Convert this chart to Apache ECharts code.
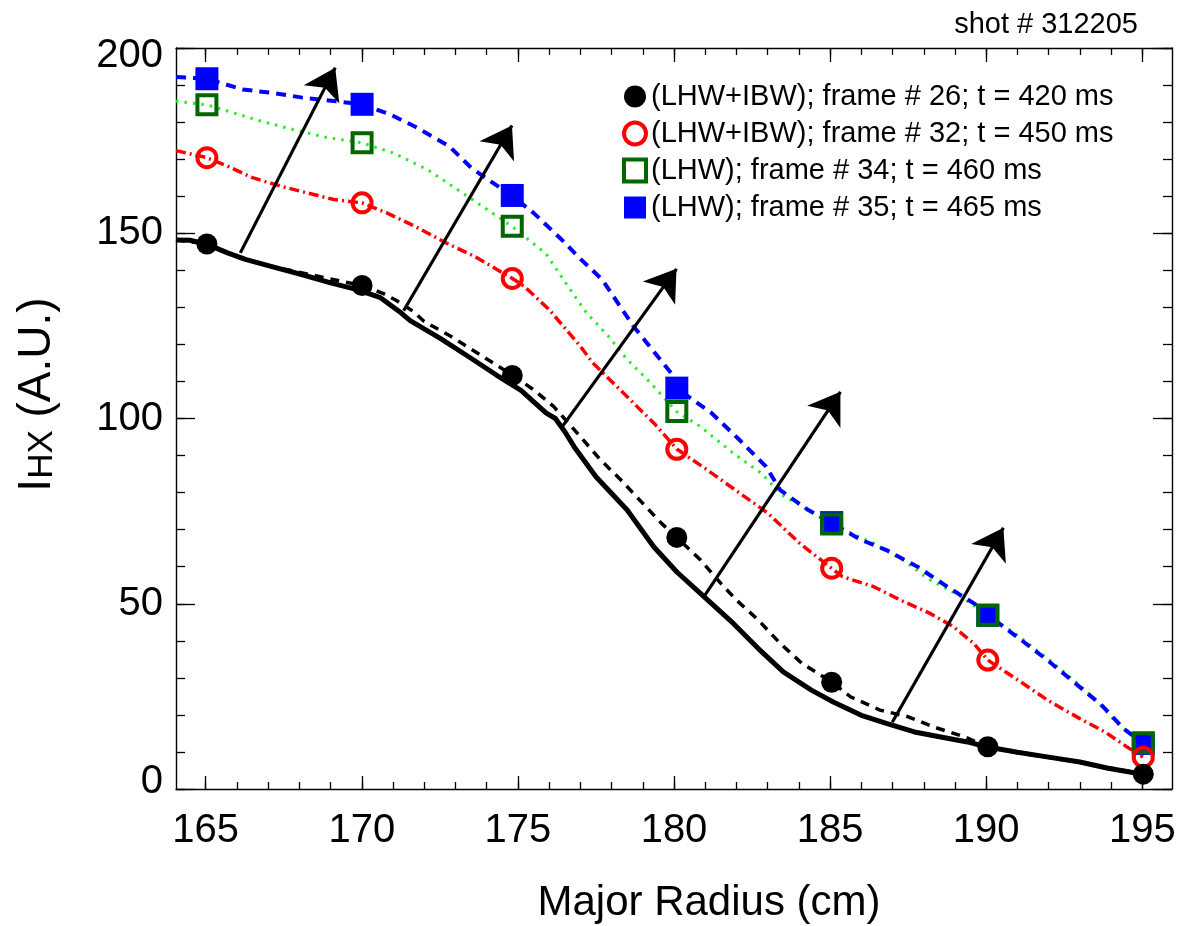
<!DOCTYPE html>
<html>
<head>
<meta charset="utf-8">
<title>HX intensity profiles, shot # 312205</title>
<script src="https://cdn.jsdelivr.net/npm/echarts@6/dist/echarts.min.js"></script>
<style>
  html, body { margin: 0; padding: 0; background: #fff; }
  #chart { width: 1184px; height: 926px; }
</style>
</head>
<body>
<div id="chart"></div>
<script>
// Chord major radius of each HX channel (cm)
const channelRadius = [165.04, 170.01, 174.82, 180.09, 185.05, 190.05, 195.03];

// Measured HX intensity per channel (A.U.)
const frame26 = [147.1, 135.9, 111.6, 67.9, 28.8, 11.4, 4.0];
const frame32 = [170.4, 158.2, 137.8, 91.7, 59.6, 34.8, 8.6];
const frame34 = [184.7, 174.4, 151.9, 101.9, 71.5, 46.9, 12.5];
const frame35 = [191.7, 184.8, 160.2, 108.2, 71.9, 46.9, 12.3];

const seriesNames = [
  '(LHW+IBW); frame # 26; t = 420 ms',
  '(LHW+IBW); frame # 32; t = 450 ms',
  '(LHW); frame # 34; t = 460 ms',
  '(LHW); frame # 35; t = 465 ms'
];

// Reconstructed profile (thick solid line), frame 26
const profileFit26 = [
  [164.05,148.2],[164.5,148.1],[165.05,147.0],[165.7,144.7],[166.3,142.9],[167.3,140.6],
  [168.1,138.8],[169.0,136.6],[169.85,134.8],[170.6,132.6],[171.2,128.9],[171.55,126.4],
  [172.5,121.7],[173.4,116.8],[174.3,111.8],[175.1,107.6],[175.9,101.5],[176.2,100.0],
  [176.5,96.5],[176.8,92.4],[177.5,84.3],[178.5,75.3],[179.35,65.4],[180.1,58.5],
  [180.96,51.9],[181.9,44.7],[182.7,37.9],[183.5,31.6],[184.4,26.7],[185.1,23.5],
  [186.0,19.9],[186.8,17.7],[187.7,15.4],[188.5,14.1],[189.4,12.7],[190.0,11.4],
  [191.0,9.9],[192.0,8.6],[193.0,7.3],[193.9,5.6],[194.6,4.6],[195.05,3.8]
];

// Smoothed profiles through the channels
const profile26 = [
  [164.05,148.2],[165.08,147.1],[166.0,143.6],[167.0,141.2],[167.7,140.0],[168.7,138.2],
  [169.2,137.3],[170.01,135.9],[170.7,133.7],[171.1,131.9],[171.65,128.9],[172.0,126.2],
  [172.85,122.2],[173.7,117.7],[174.84,111.6],[175.5,107.8],[176.15,103.2],[177.0,95.1],
  [177.65,88.8],[178.3,83.4],[179.0,77.1],[179.6,71.7],[180.09,67.9],[180.85,61.8],
  [181.5,55.5],[182.0,51.0],[182.7,45.6],[183.4,39.3],[184.1,33.9],[185.07,28.8],
  [185.65,24.9],[186.6,21.3],[187.5,19.5],[188.3,16.8],[189.3,14.1],[190.04,11.4],
  [191.0,9.8],[192.0,8.5],[193.0,7.2],[194.0,5.6],[195.05,4.0]
];
const profile32 = [
  [164.05,172.3],[165.04,170.4],[165.7,168.1],[166.5,165.0],[167.4,162.7],[168.25,160.9],
  [169.1,159.1],[170.01,158.2],[170.8,155.5],[171.7,151.9],[172.7,147.4],[173.6,143.8],
  [174.8,137.9],[175.2,135.7],[176.0,129.4],[177.0,119.5],[177.4,115.0],[178.05,109.6],
  [178.7,104.2],[179.35,98.8],[180.1,91.7],[181.0,86.5],[182.0,80.5],[183.0,74.5],
  [184.0,66.5],[185.04,59.6],[185.4,57.3],[186.4,54.6],[187.25,51.0],[188.2,47.4],
  [188.95,43.8],[189.6,39.3],[190.05,34.8],[191.0,29.5],[192.0,23.8],[193.0,19.0],
  [193.8,15.4],[194.5,11.4],[195.02,8.6]
];
const profile34 = [
  [164.05,185.6],[165.02,184.7],[165.7,183.0],[166.75,180.3],[167.8,178.0],[168.9,175.8],
  [170.01,174.4],[171.0,171.7],[172.1,167.2],[172.9,162.7],[173.7,158.2],[174.8,151.9],
  [175.9,144.5],[176.6,135.7],[177.2,128.5],[177.9,122.2],[178.5,115.9],[179.15,110.5],
  [180.08,101.9],[180.85,97.8],[181.9,90.6],[182.8,85.2],[183.45,79.4],[184.3,75.3],
  [185.04,71.5],[186.4,66.3],[187.3,62.0],[188.2,56.4],[189.1,52.4],[190.06,46.9],
  [191.0,41.5],[192.0,35.0],[193.0,28.0],[193.6,23.1],[194.3,16.8],[195.02,12.5]
];
const profile35 = [
  [164.05,192.2],[165.02,191.7],[166.2,188.8],[167.2,187.8],[168.1,186.6],[169.1,185.7],
  [170.01,184.8],[170.9,182.1],[171.7,178.8],[172.8,173.5],[173.5,167.7],[174.2,163.6],
  [174.8,160.2],[175.5,155.5],[176.4,148.3],[176.95,143.5],[177.7,137.5],[178.7,124.9],
  [179.3,118.6],[179.95,111.8],[180.08,108.2],[181.2,101.5],[182.1,94.2],[182.95,87.0],
  [183.4,80.7],[184.3,75.3],[185.04,71.9],[186.0,67.2],[186.8,64.5],[187.8,60.0],
  [188.75,54.6],[189.7,49.6],[190.06,46.9],[191.0,41.0],[192.0,34.5],[193.0,27.5],
  [193.7,22.6],[194.4,16.3],[195.02,12.3]
];

// Arrows showing the rise of the profile (tail -> head)
const arrowTails = [[166.11,144.7],[171.34,129.1],[176.42,97.8],[180.95,51.8],[186.99,18.0]];
const arrowHeads = [[169.15,194.7],[174.81,179.1],[180.08,140.4],[185.33,107.2],[190.55,70.5]];

// Axis ticks and labels
const xMajor = [165, 170, 175, 180, 185, 190, 195];
const xMinor = [165,166,167,168,169,170,171,172,173,174,175,176,177,178,179,180,
                181,182,183,184,185,186,187,188,189,190,191,192,193,194,195];
const yMajor = [0, 50, 100, 150, 200];
const yMinor = [0,10,20,30,40,50,60,70,80,90,100,110,120,130,140,150,160,170,180,190,200];

const FONT = '"Liberation Sans", Arial, Helvetica, sans-serif';
const xRange = [164.05, 195.95];
const yRange = [0, 200];

function pairs(xs, ys) { return xs.map((x, i) => [x, ys[i]]); }

function xAxisDef(pos, ticks, len, withLabels, withLine) {
  return {
    type: 'value', position: pos, min: xRange[0], max: xRange[1],
    axisLine: { show: withLine, onZero: false, lineStyle: { color: '#000', width: 1.4 } },
    axisTick: { show: true, inside: true, length: len, customValues: ticks,
                lineStyle: { color: '#000', width: 1.3 } },
    axisLabel: withLabels ? {
      show: true, customValues: xMajor, margin: 22, fontSize: 40,
      fontFamily: FONT, color: '#000'
    } : { show: false },
    splitLine: { show: false }
  };
}
function yAxisDef(pos, ticks, len, withLabels, withLine) {
  return {
    type: 'value', position: pos, min: yRange[0], max: yRange[1],
    axisLine: { show: withLine, onZero: false, lineStyle: { color: '#000', width: 1.4 } },
    axisTick: { show: true, inside: true, length: len, customValues: ticks,
                lineStyle: { color: '#000', width: 1.3 } },
    axisLabel: withLabels ? {
      show: true, customValues: yMajor, margin: 13, fontSize: 40,
      fontFamily: FONT, color: '#000',
      formatter: function (v) {
        if (v === 200) return '{top|200}';
        if (v === 0) return '{bot|0}';
        return String(v);
      },
      rich: {
        top: { fontSize: 40, fontFamily: FONT, color: '#000', padding: [16, 0, 0, 0] },
        bot: { fontSize: 40, fontFamily: FONT, color: '#000', padding: [0, 0, 14, 0] }
      }
    } : { show: false },
    splitLine: { show: false }
  };
}

const xAxes = [
  xAxisDef('bottom', xMajor, 13, true, true),
  xAxisDef('bottom', xMinor, 7, false, false),
  xAxisDef('top', xMajor, 14, false, true),
  xAxisDef('top', xMinor, 7, false, false)
];
xAxes[0].name = 'Major Radius (cm)';
xAxes[0].nameLocation = 'middle';
xAxes[0].nameGap = 93;
xAxes[0].nameTextStyle = { fontSize: 42, fontFamily: FONT, color: '#000', padding: [0, 0, 0, 70] };

const yAxes = [
  yAxisDef('left', yMajor, 19, true, true),
  yAxisDef('left', yMinor, 9, false, false),
  yAxisDef('right', yMajor, 19, false, true),
  yAxisDef('right', yMinor, 9, false, false)
];
yAxes[0].name = '{m|I}{s|HX}{m| (A.U.)}';
yAxes[0].nameLocation = 'middle';
yAxes[0].nameRotate = 90;
yAxes[0].nameGap = 116;
yAxes[0].nameTextStyle = {
  padding: [0, 0, 0, 48],
  rich: {
    m: { fontSize: 46, fontFamily: FONT, color: '#000', lineHeight: 52, verticalAlign: 'bottom' },
    s: { fontSize: 35, fontFamily: FONT, color: '#000', lineHeight: 4, verticalAlign: 'bottom' }
  }
};

function profileLine(data, color, width, dash, z) {
  return {
    type: 'line', data: data, showSymbol: false, symbol: 'none', silent: true,
    smooth: false, z: z, animation: false,
    lineStyle: { color: color, width: width, type: dash, cap: 'butt', join: 'round' }
  };
}

const option = {
  animation: false,
  backgroundColor: '#fff',
  title: {
    text: 'shot # 312205', right: 41, top: 5,
    textStyle: { fontSize: 29, fontWeight: 'normal', fontFamily: FONT, color: '#000' }
  },
  grid: { left: 176, right: 12, top: 48, bottom: 137, containLabel: false, outerBoundsMode: 'none' },
  xAxis: xAxes,
  yAxis: yAxes,
  legend: {
    orient: 'vertical', left: 617, top: 77,
    itemWidth: 22, itemHeight: 22, itemGap: 8,
    data: [
      { name: seriesNames[0] },
      { name: seriesNames[1], itemStyle: { borderWidth: 4 } },
      { name: seriesNames[2], itemStyle: { borderWidth: 4 } },
      { name: seriesNames[3] }
    ],
    textStyle: { fontSize: 29, fontFamily: FONT, color: '#000' },
    selectedMode: false
  },
  series: [
    profileLine(profileFit26, '#000', 5, 'solid', 2),
    profileLine(profile26, '#000', 3.5, [9, 7], 2),
    profileLine(profile32, '#ff0000', 3.5, [10, 4, 2, 4], 2),
    profileLine(profile34, '#22ee22', 3, [2.5, 6], 2),
    profileLine(profile35, '#0000ff', 4, [10, 7], 2),
    {
      type: 'lines', coordinateSystem: 'cartesian2d', z: 3, silent: true, animation: false,
      symbol: ['none', 'arrow'], symbolSize: 30,
      lineStyle: { color: '#000', width: 3.2, opacity: 1, curveness: 0 },
      data: arrowTails.map((t, i) => ({ coords: [t, arrowHeads[i]] }))
    },
    {
      name: seriesNames[3], type: 'scatter', z: 4, symbol: 'rect', symbolSize: 23,
      data: pairs(channelRadius, frame35),
      itemStyle: { color: '#0000ff', opacity: 1 }
    },
    {
      name: seriesNames[2], type: 'scatter', z: 5, symbol: 'rect', symbolSize: 19,
      data: pairs(channelRadius, frame34),
      itemStyle: { color: 'rgba(0,0,0,0)', borderColor: '#006600', borderWidth: 4, opacity: 1 }
    },
    {
      name: seriesNames[1], type: 'scatter', z: 6, symbol: 'circle', symbolSize: 19,
      data: pairs(channelRadius, frame32),
      itemStyle: { color: 'rgba(0,0,0,0)', borderColor: '#ff0000', borderWidth: 4, opacity: 1 }
    },
    {
      name: seriesNames[0], type: 'scatter', z: 7, symbol: 'circle', symbolSize: 21,
      data: pairs(channelRadius, frame26),
      itemStyle: { color: '#000', opacity: 1 }
    }
  ]
};

const chart = echarts.init(document.getElementById('chart'), null, { renderer: 'canvas' });
chart.setOption(option);
</script>
</body>
</html>
